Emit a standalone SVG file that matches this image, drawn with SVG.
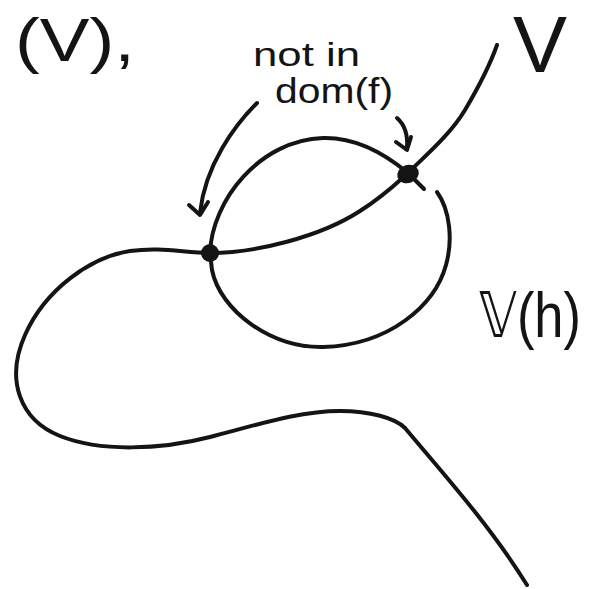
<svg xmlns="http://www.w3.org/2000/svg" width="590" height="589" viewBox="0 0 590 589">
<style>
.ln{fill:none;stroke:#141414;stroke-width:4;stroke-linecap:round;stroke-linejoin:round}
.dot{fill:#141414}
.tx{font-family:"Liberation Sans","DejaVu Sans",sans-serif;fill:#141414}
</style>
<rect width="590" height="589" fill="#ffffff"/>
<g id="curves">
<path class="ln" d="M210,253 C255,253 320,237 360,211 C385,195 400,180 408,173 C425,156 450,135 465,110 C478,88 490,65 497,45"/>
<path class="ln" d="M210,253 C212,200 260,140 323,138 C360,137 390,158 408,173"/>
<path class="ln" d="M408,173 L424,189"/>
<path class="ln" d="M437,192 C450,210 453,240 446,265 C435,305 390,345 323,347 C270,348 220,310 212,270 L210,253"/>
<path class="ln" d="M210,253 C180,252 160,247 130,251 C90,257 45,290 25,335 C5,380 20,420 60,436 C100,452 160,450 210,437 C260,424 300,411 340,411 C370,411 395,418 405,428 C440,470 490,525 527,585"/>
</g>
<g id="connectors">
<path class="ln" d="M257,103 C235,125 205,165 200,213"/>
<path class="ln" d="M189,205 L200,215 L208,202"/>
<path class="ln" d="M397,118 C405,125 408,135 407,148"/>
<path class="ln" d="M396,142 L407,150 L411,137"/>
</g>
<g id="point-left"><circle class="dot" cx="210" cy="253" r="9"/></g>
<g id="point-right"><ellipse class="dot" cx="408" cy="174" rx="11" ry="9" transform="rotate(-20 408 174)"/></g>
<g id="label-top-left"><text class="tx" x="15" y="61" font-size="62" textLength="120" lengthAdjust="spacingAndGlyphs">(V),</text></g>
<g id="label-V"><text class="tx" x="513" y="72" font-size="80" textLength="54" lengthAdjust="spacingAndGlyphs">V</text></g>
<g id="label-Vh"><text class="tx" transform="translate(479,337) scale(1,1.25)" x="0" y="0" font-size="50" textLength="102" lengthAdjust="spacingAndGlyphs">𝕍(h)</text></g>
<g id="label-notin">
<text class="tx" x="253" y="66" font-size="33" textLength="107" lengthAdjust="spacingAndGlyphs">not in</text>
<text class="tx" x="275" y="103" font-size="35" textLength="118" lengthAdjust="spacingAndGlyphs">dom(f)</text>
</g>
</svg>
